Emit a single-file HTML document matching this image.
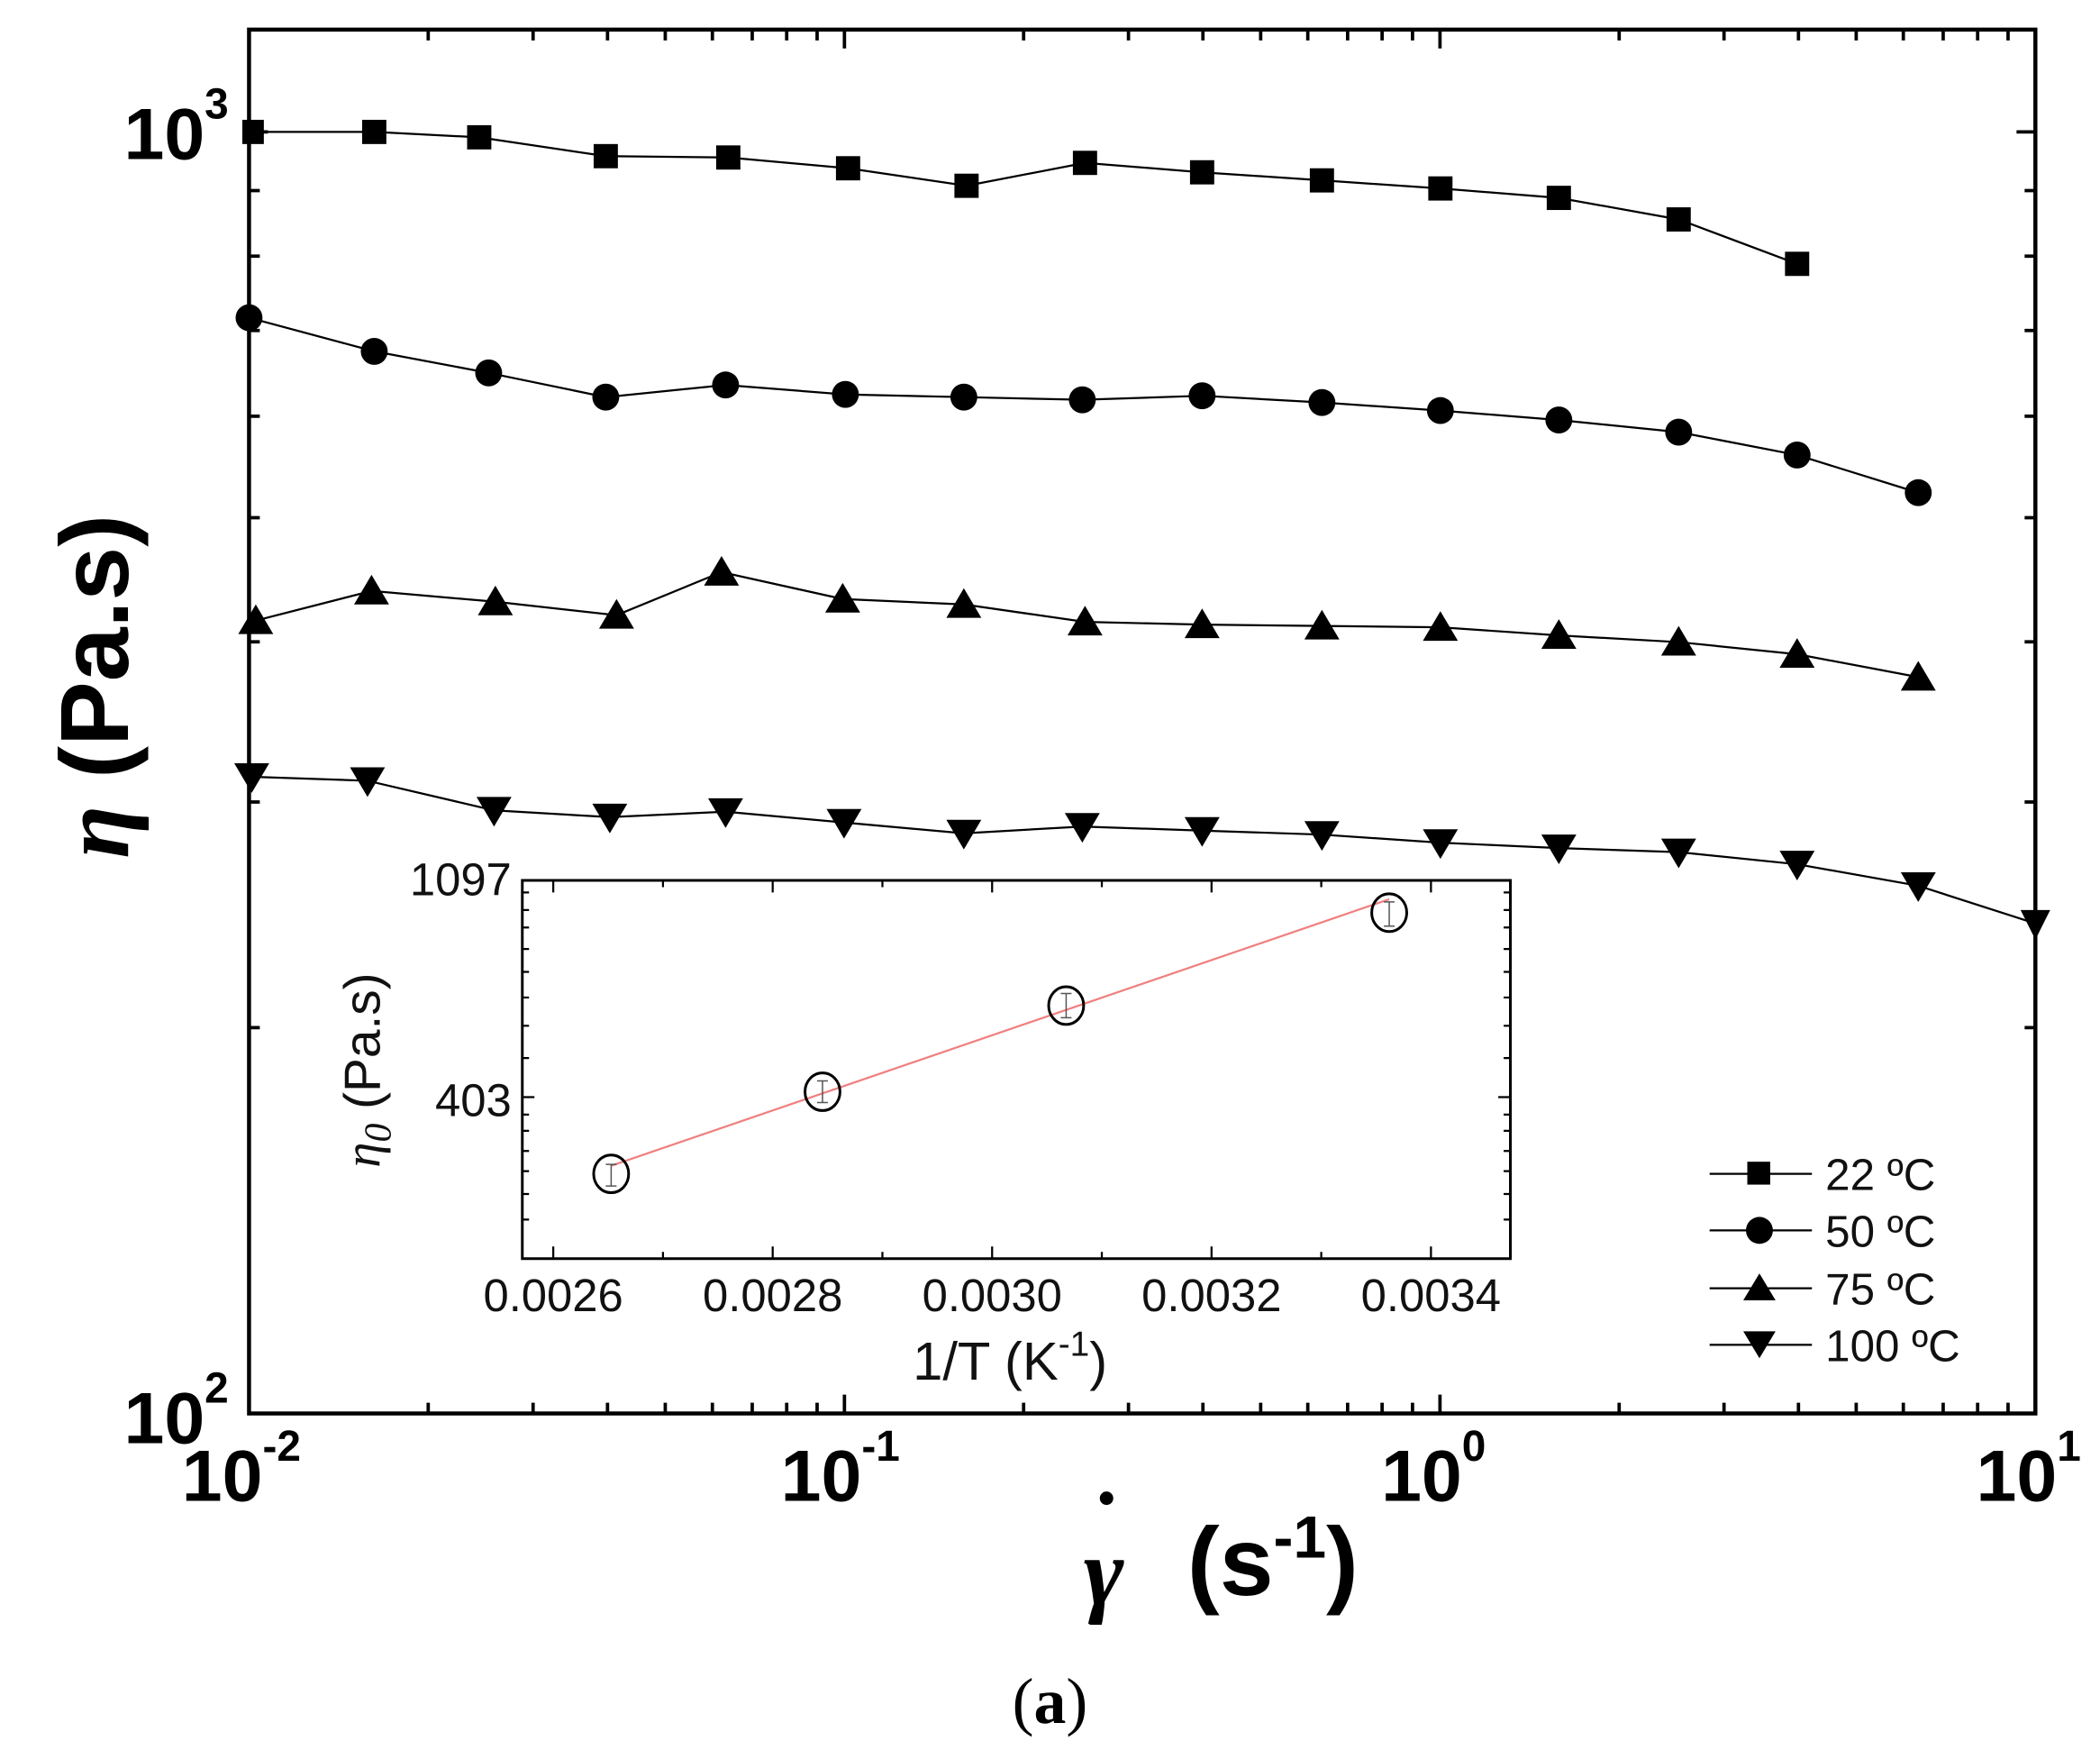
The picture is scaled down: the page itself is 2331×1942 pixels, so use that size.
<!DOCTYPE html>
<html><head><meta charset="utf-8"><style>html,body{margin:0;padding:0;background:#fff}svg{display:block}</style></head>
<body>
<svg width="2331" height="1942" viewBox="0 0 1560 1300" preserveAspectRatio="none" xmlns="http://www.w3.org/2000/svg" font-family="Liberation Sans, Arial, sans-serif">
<rect width="1560" height="1300" fill="#fff"/>
<rect x="185" y="22" width="1327" height="1028" fill="none" stroke="#000" stroke-width="3"/>
<g stroke="#000" stroke-width="2.5" fill="none">
<path d="M185 1050v-14M627.3 1050v-14M1069.7 1050v-14M185 22v14M627.3 22v14M1069.7 22v14"/>
<path d="M318.1 1050v-8M396 1050v-8M451.3 1050v-8M494.2 1050v-8M529.2 1050v-8M558.8 1050v-8M584.4 1050v-8M607 1050v-8M760.4 1050v-8M838.3 1050v-8M893.6 1050v-8M936.5 1050v-8M971.5 1050v-8M1001.1 1050v-8M1026.7 1050v-8M1049.3 1050v-8M1202.8 1050v-8M1280.7 1050v-8M1336 1050v-8M1378.9 1050v-8M1413.9 1050v-8M1443.5 1050v-8M1469.1 1050v-8M1491.7 1050v-8"/>
<path d="M318.1 22v8M396 22v8M451.3 22v8M494.2 22v8M529.2 22v8M558.8 22v8M584.4 22v8M607 22v8M760.4 22v8M838.3 22v8M893.6 22v8M936.5 22v8M971.5 22v8M1001.1 22v8M1026.7 22v8M1049.3 22v8M1202.8 22v8M1280.7 22v8M1336 22v8M1378.9 22v8M1413.9 22v8M1443.5 22v8M1469.1 22v8M1491.7 22v8"/>
<path d="M185 98h14M1512 98h-14"/>
<path d="M185 763.4h8M185 595.8h8M185 476.8h8M185 384.6h8M185 309.2h8M185 245.5h8M185 190.3h8M185 141.6h8M1512 763.4h-8M1512 595.8h-8M1512 476.8h-8M1512 384.6h-8M1512 309.2h-8M1512 245.5h-8M1512 190.3h-8M1512 141.6h-8"/>
</g>
<g stroke="#000" stroke-width="1.5" fill="none">
<polyline points="187,98 278,98 356,102 450,116 541,117 630,125 718,138 806,121 893,128 982,134 1070,140 1158,147 1247,163 1335,196"/>
<polyline points="185,236 278,261 363,277 450,295 539,286 628,293 716,295 804,297 893,294 982,299 1070,305 1158,312 1247,321 1335,338 1425,366"/>
<polyline points="190,461 276,439 368,447 458,457 536,425 626,445 716,449 806,462 893,464 982,465 1070,466 1158,472 1247,477 1335,486 1425,503"/>
<polyline points="187,577 273,580 367,602 453,607 539,603 627,611 716,619 804,614 893,617 982,620 1070,626 1158,630 1247,633 1335,642 1425,658 1512,686"/>
</g>
<g fill="#000">
<rect x="180" y="89" width="16" height="18"/>
<rect x="269" y="89" width="18" height="18"/><rect x="347" y="93" width="18" height="18"/><rect x="441" y="107" width="18" height="18"/><rect x="532" y="108" width="18" height="18"/><rect x="621" y="116" width="18" height="18"/><rect x="709" y="129" width="18" height="18"/><rect x="797" y="112" width="18" height="18"/><rect x="884" y="119" width="18" height="18"/><rect x="973" y="125" width="18" height="18"/><rect x="1061" y="131" width="18" height="18"/><rect x="1149" y="138" width="18" height="18"/><rect x="1238" y="154" width="18" height="18"/><rect x="1326" y="187" width="18" height="18"/>
<circle cx="185" cy="236" r="10"/><circle cx="278" cy="261" r="10"/><circle cx="363" cy="277" r="10"/><circle cx="450" cy="295" r="10"/><circle cx="539" cy="286" r="10"/><circle cx="628" cy="293" r="10"/><circle cx="716" cy="295" r="10"/><circle cx="804" cy="297" r="10"/><circle cx="893" cy="294" r="10"/><circle cx="982" cy="299" r="10"/><circle cx="1070" cy="305" r="10"/><circle cx="1158" cy="312" r="10"/><circle cx="1247" cy="321" r="10"/><circle cx="1335" cy="338" r="10"/><circle cx="1425" cy="366" r="10"/>
<path d="M190 449l13 22h-26z"/><path d="M276 427l13 22h-26z"/><path d="M368 435l13 22h-26z"/><path d="M458 445l13 22h-26z"/><path d="M536 413l13 22h-26z"/><path d="M626 433l13 22h-26z"/><path d="M716 437l13 22h-26z"/><path d="M806 450l13 22h-26z"/><path d="M893 452l13 22h-26z"/><path d="M982 453l13 22h-26z"/><path d="M1070 454l13 22h-26z"/><path d="M1158 460l13 22h-26z"/><path d="M1247 465l13 22h-26z"/><path d="M1335 474l13 22h-26z"/><path d="M1425 491l13 22h-26z"/>
<path d="M187 589l13 -22h-26z"/><path d="M273 592l13 -22h-26z"/><path d="M367 614l13 -22h-26z"/><path d="M453 619l13 -22h-26z"/><path d="M539 615l13 -22h-26z"/><path d="M627 623l13 -22h-26z"/><path d="M716 631l13 -22h-26z"/><path d="M804 626l13 -22h-26z"/><path d="M893 629l13 -22h-26z"/><path d="M982 632l13 -22h-26z"/><path d="M1070 638l13 -22h-26z"/><path d="M1158 642l13 -22h-26z"/><path d="M1247 645l13 -22h-26z"/><path d="M1335 654l13 -22h-26z"/><path d="M1425 670l13 -22h-26z"/><path d="M1512 698l11 -22h-22z"/>
</g>
<g font-weight="bold" fill="#000" font-size="54">
<text x="92" y="118">10<tspan font-size="32" dy="-30">3</tspan></text>
<text x="92" y="1072">10<tspan font-size="32" dy="-30">2</tspan></text>
<text x="135" y="1115">10<tspan font-size="32" dy="-30">-2</tspan></text>
<text x="580" y="1115">10<tspan font-size="32" dy="-30">-1</tspan></text>
<text x="1026" y="1115">10<tspan font-size="32" dy="-30">0</tspan></text>
<text x="1468" y="1115">10<tspan font-size="32" dy="-30">1</tspan></text>
</g>
<text transform="translate(95,510) rotate(-90)" text-anchor="middle" font-size="72" font-weight="bold"><tspan font-family="Liberation Serif, serif" font-style="italic">η</tspan> (Pa.s)</text>
<g font-size="72" font-weight="bold">
<text x="805" y="1192" font-family="Liberation Serif, serif" font-style="italic">γ</text>
<circle cx="822" cy="1113" r="5" fill="#000"/>
<text x="882" y="1185">(s<tspan font-size="44" dy="-28">-1</tspan><tspan dy="28">)</tspan></text>
</g>
<text x="780" y="1280" text-anchor="middle" font-family="Liberation Serif, serif" font-size="48"><tspan>(</tspan><tspan font-weight="bold">a</tspan><tspan>)</tspan></text>
<g stroke="#000" stroke-width="1.5"><path d="M1270 872h76M1270 914h76M1270 957h76M1270 999h76"/></g>
<g fill="#000">
<rect x="1298" y="863" width="17" height="17"/>
<circle cx="1307" cy="914" r="10"/>
<path d="M1307 946l12 20h-24z"/>
<path d="M1307 1009l12 -20h-24z"/>
</g>
<g font-size="33" fill="#111">
<text x="1356" y="884">22 ºC</text><text x="1356" y="926">50 ºC</text><text x="1356" y="969">75 ºC</text><text x="1356" y="1011">100 ºC</text>
</g>
<rect x="388" y="654" width="734" height="281" fill="#fff" stroke="#000" stroke-width="2"/>
<g stroke="#000" stroke-width="1.5">
<path d="M411 935v-9M574 935v-9M737 935v-9M900 935v-9M1063 935v-9M411 654v9M574 654v9M737 654v9M900 654v9M1063 654v9"/>
<path d="M492.5 935v-5M655.5 935v-5M818.5 935v-5M981.5 935v-5M492.5 654v5M655.5 654v5M818.5 654v5M981.5 654v5"/>
<path d="M388 815h9M1122 815h-9"/>
<path d="M388 663h5M388 676h5M388 689h5M388 705h5M388 722h5M388 741h5M388 762h5M388 786h5M388 828h5M388 840h5M388 855h5M388 870h5M388 887h5M388 906h5M1122 663h-5M1122 676h-5M1122 689h-5M1122 705h-5M1122 722h-5M1122 741h-5M1122 762h-5M1122 786h-5M1122 828h-5M1122 840h-5M1122 855h-5M1122 870h-5M1122 887h-5M1122 906h-5"/>
</g>
<line x1="454" y1="866" x2="1032" y2="668" stroke="#f08080" stroke-width="1.5"/>
<g fill="none" stroke="#000" stroke-width="2">
<ellipse cx="454" cy="872" rx="13" ry="14"/><ellipse cx="611" cy="811" rx="13" ry="14"/><ellipse cx="792" cy="747" rx="13" ry="14"/><ellipse cx="1032" cy="678" rx="13" ry="14"/>
</g>
<g stroke="#555" stroke-width="1"><path d="M454 865v16M450 865h8M450 881h8M611 803v16M607 803h8M607 819h8M792 738v18M788 738h8M788 756h8M1032 670v18M1028 670h8M1028 688h8"/></g>
<g font-size="34" fill="#111">
<text x="380" y="665" text-anchor="end">1097</text>
<text x="380" y="829" text-anchor="end">403</text>
<g text-anchor="middle"><text x="411" y="974">0.0026</text><text x="574" y="974">0.0028</text><text x="737" y="974">0.0030</text><text x="900" y="974">0.0032</text><text x="1063" y="974">0.0034</text></g>
<text x="678" y="1025" font-size="40">1/T (K<tspan font-size="26" dy="-18">-1</tspan><tspan dy="18">)</tspan></text>
<text transform="translate(282,795) rotate(-90)" text-anchor="middle" font-size="38"><tspan font-family="Liberation Serif, serif" font-style="italic">η<tspan font-size="28" dy="8">0</tspan></tspan><tspan dy="-8"> (Pa.s)</tspan></text>
</g>
</svg>
</body></html>
